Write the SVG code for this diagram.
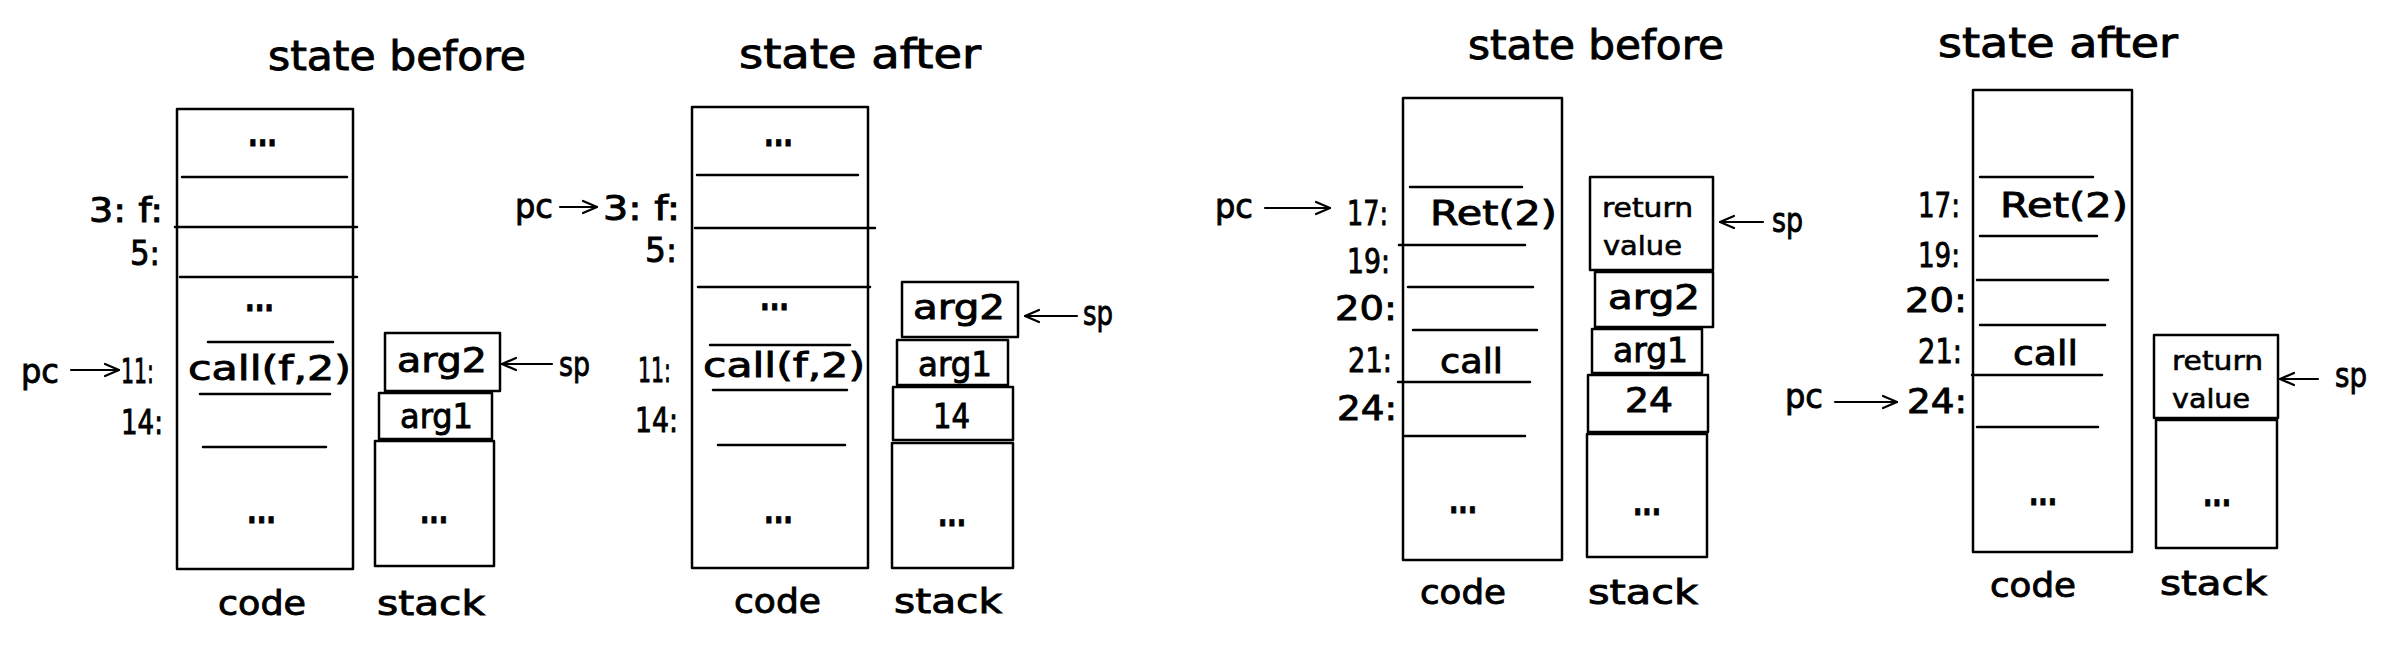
<svg xmlns="http://www.w3.org/2000/svg" width="2392" height="650" viewBox="0 0 2392 650">
<style>
.t{font-family:"DejaVu Sans","Liberation Sans",sans-serif;fill:#000;stroke:#000;stroke-width:0.9px}
.title{font-size:40px}
.lbl{font-size:34px}
.dots{font-size:34px;font-weight:bold}
.sm{font-size:26px;stroke-width:0.6px}
.box{fill:none;stroke:#000;stroke-width:2.5;stroke-linejoin:round}
.ln{fill:none;stroke:#000;stroke-width:2.5;stroke-linecap:round}
.arr{fill:none;stroke:#000;stroke-width:2.2;stroke-linecap:round;marker-end:url(#ah)}
</style>
<defs>
<marker id="ah" viewBox="0 0 16 16" refX="15" refY="8" markerWidth="16" markerHeight="16" markerUnits="userSpaceOnUse" orient="auto">
<path d="M1,2 L15,8 L1,14" fill="none" stroke="#000" stroke-width="2.2" stroke-linecap="round" stroke-linejoin="round"/>
</marker>
</defs>
<rect width="2392" height="650" fill="#fff"/>

<!-- ===== Diagram 1: state before (call) ===== -->
<g id="d1-title"><text class="t title" x="268" y="70" textLength="258" lengthAdjust="spacingAndGlyphs">state before</text></g>
<g id="d1-code">
<rect class="box" x="177" y="109" width="176" height="460"/>
<path class="ln" d="M182,177H347M175,227H357M180,277H357M208,342H333M200,394H330M203,447H326"/>
<text class="t dots" x="248" y="146" textLength="29" lengthAdjust="spacingAndGlyphs">...</text>
<text class="t dots" x="245" y="311" textLength="29" lengthAdjust="spacingAndGlyphs">...</text>
<text class="t lbl" x="188" y="380" textLength="163" lengthAdjust="spacingAndGlyphs">call(f,2)</text>
<text class="t dots" x="247" y="523" textLength="29" lengthAdjust="spacingAndGlyphs">...</text>
<text class="t lbl" x="218" y="615" textLength="88" lengthAdjust="spacingAndGlyphs">code</text>
</g>
<g id="d1-addr">
<text class="t lbl" x="89" y="222" textLength="74" lengthAdjust="spacingAndGlyphs">3: f:</text>
<text class="t lbl" x="130" y="265" textLength="30" lengthAdjust="spacingAndGlyphs">5:</text>
<text class="t lbl" x="121" y="383" textLength="33" lengthAdjust="spacingAndGlyphs">11:</text>
<text class="t lbl" x="121" y="434" textLength="42" lengthAdjust="spacingAndGlyphs">14:</text>
</g>
<g id="d1-stack">
<g id="d1-arg2"><rect class="box" x="385" y="333" width="115" height="58"/><text class="t lbl" x="397" y="372" textLength="90" lengthAdjust="spacingAndGlyphs">arg2</text></g>
<g id="d1-arg1"><rect class="box" x="379" y="393" width="113" height="46"/><text class="t lbl" x="400" y="428" textLength="73" lengthAdjust="spacingAndGlyphs">arg1</text></g>
<g id="d1-rest"><rect class="box" x="375" y="441" width="119" height="125"/><text class="t dots" x="420" y="523" textLength="28" lengthAdjust="spacingAndGlyphs">...</text></g>
<text class="t lbl" x="377" y="615" textLength="108" lengthAdjust="spacingAndGlyphs">stack</text>
</g>
<g id="d1-pc"><text class="t lbl" x="21" y="383" textLength="38" lengthAdjust="spacingAndGlyphs">pc</text></g>
<g id="d1-sp"><text class="t lbl" x="559" y="376" textLength="31" lengthAdjust="spacingAndGlyphs">sp</text></g>

<!-- ===== Diagram 2: state after (call) ===== -->
<g id="d2-title"><text class="t title" x="739" y="68" textLength="242" lengthAdjust="spacingAndGlyphs">state after</text></g>
<g id="d2-code">
<rect class="box" x="692" y="107" width="176" height="461"/>
<path class="ln" d="M697,175H858M695,228H875M698,287H870M710,345H850M713,390H847M718,445H845"/>
<text class="t dots" x="764" y="146" textLength="29" lengthAdjust="spacingAndGlyphs">...</text>
<text class="t dots" x="760" y="310" textLength="29" lengthAdjust="spacingAndGlyphs">...</text>
<text class="t lbl" x="703" y="377" textLength="162" lengthAdjust="spacingAndGlyphs">call(f,2)</text>
<text class="t dots" x="764" y="523" textLength="29" lengthAdjust="spacingAndGlyphs">...</text>
<text class="t lbl" x="734" y="613" textLength="87" lengthAdjust="spacingAndGlyphs">code</text>
</g>
<g id="d2-addr">
<text class="t lbl" x="603" y="220" textLength="77" lengthAdjust="spacingAndGlyphs">3: f:</text>
<text class="t lbl" x="645" y="262" textLength="32" lengthAdjust="spacingAndGlyphs">5:</text>
<text class="t lbl" x="638" y="382" textLength="33" lengthAdjust="spacingAndGlyphs">11:</text>
<text class="t lbl" x="635" y="432" textLength="43" lengthAdjust="spacingAndGlyphs">14:</text>
</g>
<g id="d2-stack">
<g id="d2-arg2"><rect class="box" x="902" y="282" width="116" height="55"/><text class="t lbl" x="913" y="319" textLength="92" lengthAdjust="spacingAndGlyphs">arg2</text></g>
<g id="d2-arg1"><rect class="box" x="897" y="340" width="111" height="45"/><text class="t lbl" x="918" y="376" textLength="74" lengthAdjust="spacingAndGlyphs">arg1</text></g>
<g id="d2-ret"><rect class="box" x="893" y="387" width="120" height="53"/><text class="t lbl" x="933" y="428" textLength="37" lengthAdjust="spacingAndGlyphs">14</text></g>
<g id="d2-rest"><rect class="box" x="892" y="443" width="121" height="125"/><text class="t dots" x="938" y="526" textLength="28" lengthAdjust="spacingAndGlyphs">...</text></g>
<text class="t lbl" x="894" y="613" textLength="108" lengthAdjust="spacingAndGlyphs">stack</text>
</g>
<g id="d2-pc"><text class="t lbl" x="515" y="218" textLength="38" lengthAdjust="spacingAndGlyphs">pc</text></g>
<g id="d2-sp"><text class="t lbl" x="1083" y="325" textLength="30" lengthAdjust="spacingAndGlyphs">sp</text></g>

<!-- ===== Diagram 3: state before (ret) ===== -->
<g id="d3-title"><text class="t title" x="1468" y="59" textLength="256" lengthAdjust="spacingAndGlyphs">state before</text></g>
<g id="d3-code">
<rect class="box" x="1403" y="98" width="159" height="462"/>
<path class="ln" d="M1410,187H1522M1399,245H1525M1408,287H1533M1413,330H1537M1398,382H1530M1405,436H1525"/>
<text class="t lbl" x="1430" y="225" textLength="127" lengthAdjust="spacingAndGlyphs">Ret(2)</text>
<text class="t lbl" x="1440" y="373" textLength="63" lengthAdjust="spacingAndGlyphs">call</text>
<text class="t dots" x="1449" y="513" textLength="28" lengthAdjust="spacingAndGlyphs">...</text>
<text class="t lbl" x="1420" y="604" textLength="86" lengthAdjust="spacingAndGlyphs">code</text>
</g>
<g id="d3-addr">
<text class="t lbl" x="1347" y="225" textLength="41" lengthAdjust="spacingAndGlyphs">17:</text>
<text class="t lbl" x="1347" y="273" textLength="43" lengthAdjust="spacingAndGlyphs">19:</text>
<text class="t lbl" x="1335" y="320" textLength="62" lengthAdjust="spacingAndGlyphs">20:</text>
<text class="t lbl" x="1348" y="372" textLength="44" lengthAdjust="spacingAndGlyphs">21:</text>
<text class="t lbl" x="1337" y="420" textLength="60" lengthAdjust="spacingAndGlyphs">24:</text>
</g>
<g id="d3-stack">
<g id="d3-retval"><rect class="box" x="1590" y="177" width="123" height="93"/><text class="t sm" x="1602" y="217" textLength="91" lengthAdjust="spacingAndGlyphs">return</text><text class="t sm" x="1603" y="255" textLength="79" lengthAdjust="spacingAndGlyphs">value</text></g>
<g id="d3-arg2"><rect class="box" x="1595" y="272" width="118" height="55"/><text class="t lbl" x="1608" y="309" textLength="92" lengthAdjust="spacingAndGlyphs">arg2</text></g>
<g id="d3-arg1"><rect class="box" x="1592" y="329" width="110" height="44"/><text class="t lbl" x="1613" y="362" textLength="75" lengthAdjust="spacingAndGlyphs">arg1</text></g>
<g id="d3-ret"><rect class="box" x="1588" y="375" width="120" height="57"/><text class="t lbl" x="1625" y="412" textLength="48" lengthAdjust="spacingAndGlyphs">24</text></g>
<g id="d3-rest"><rect class="box" x="1587" y="434" width="120" height="123"/><text class="t dots" x="1633" y="515" textLength="28" lengthAdjust="spacingAndGlyphs">...</text></g>
<text class="t lbl" x="1588" y="604" textLength="110" lengthAdjust="spacingAndGlyphs">stack</text>
</g>
<g id="d3-pc"><text class="t lbl" x="1215" y="218" textLength="38" lengthAdjust="spacingAndGlyphs">pc</text></g>
<g id="d3-sp"><text class="t lbl" x="1772" y="232" textLength="31" lengthAdjust="spacingAndGlyphs">sp</text></g>

<!-- ===== Diagram 4: state after (ret) ===== -->
<g id="d4-title"><text class="t title" x="1938" y="57" textLength="240" lengthAdjust="spacingAndGlyphs">state after</text></g>
<g id="d4-code">
<rect class="box" x="1973" y="90" width="159" height="462"/>
<path class="ln" d="M1980,177H2093M1980,236H2097M1977,280H2108M1980,325H2105M1972,375H2102M1977,427H2098"/>
<text class="t lbl" x="2000" y="217" textLength="128" lengthAdjust="spacingAndGlyphs">Ret(2)</text>
<text class="t lbl" x="2013" y="365" textLength="65" lengthAdjust="spacingAndGlyphs">call</text>
<text class="t dots" x="2029" y="505" textLength="28" lengthAdjust="spacingAndGlyphs">...</text>
<text class="t lbl" x="1990" y="597" textLength="86" lengthAdjust="spacingAndGlyphs">code</text>
</g>
<g id="d4-addr">
<text class="t lbl" x="1918" y="217" textLength="42" lengthAdjust="spacingAndGlyphs">17:</text>
<text class="t lbl" x="1918" y="267" textLength="42" lengthAdjust="spacingAndGlyphs">19:</text>
<text class="t lbl" x="1905" y="312" textLength="62" lengthAdjust="spacingAndGlyphs">20:</text>
<text class="t lbl" x="1918" y="363" textLength="44" lengthAdjust="spacingAndGlyphs">21:</text>
<text class="t lbl" x="1907" y="413" textLength="60" lengthAdjust="spacingAndGlyphs">24:</text>
</g>
<g id="d4-stack">
<g id="d4-retval"><rect class="box" x="2154" y="335" width="124" height="83"/><text class="t sm" x="2172" y="370" textLength="91" lengthAdjust="spacingAndGlyphs">return</text><text class="t sm" x="2172" y="408" textLength="78" lengthAdjust="spacingAndGlyphs">value</text></g>
<g id="d4-rest"><rect class="box" x="2156" y="420" width="121" height="128"/><text class="t dots" x="2203" y="506" textLength="28" lengthAdjust="spacingAndGlyphs">...</text></g>
<text class="t lbl" x="2160" y="595" textLength="107" lengthAdjust="spacingAndGlyphs">stack</text>
</g>
<g id="d4-pc"><text class="t lbl" x="1785" y="408" textLength="38" lengthAdjust="spacingAndGlyphs">pc</text></g>
<g id="d4-sp"><text class="t lbl" x="2335" y="387" textLength="32" lengthAdjust="spacingAndGlyphs">sp</text></g>

<!-- ===== Connectors ===== -->
<g id="connectors">
<path class="arr" d="M71,370H119"/>
<path class="arr" d="M552,364H502"/>
<path class="arr" d="M560,207H597"/>
<path class="arr" d="M1077,316H1025"/>
<path class="arr" d="M1265,208H1330"/>
<path class="arr" d="M1763,222H1720"/>
<path class="arr" d="M1835,402H1897"/>
<path class="arr" d="M2318,379H2280"/>
</g>
</svg>
